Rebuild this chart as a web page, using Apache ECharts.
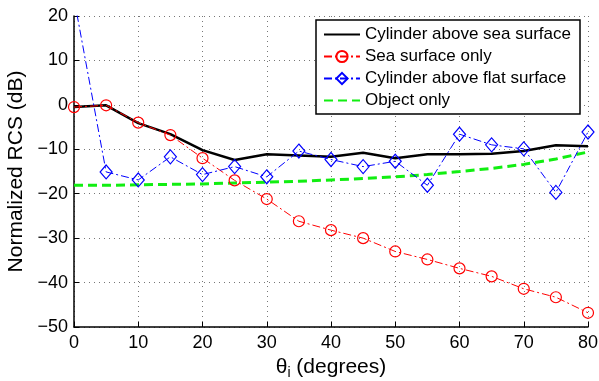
<!DOCTYPE html>
<html>
<head>
<meta charset="utf-8">
<script src="https://cdn.jsdelivr.net/npm/echarts@6/dist/echarts.min.js"></script>
<style>
  html, body { margin: 0; padding: 0; background: #fff; }
  #chart { width: 599px; height: 381px; }
</style>
</head>
<body>
<div id="chart"></div>
<script>
// incidence angles (degrees)
var angles = [0, 5, 10, 15, 20, 25, 30, 35, 40, 45, 50, 55, 60, 65, 70, 75, 80];

// Cylinder above sea surface
var cylSea = [-0.5, -0.1, -4.1, -6.6, -10.2, -12.4, -11.1, -11.4, -11.7, -10.8, -12.0, -11.1, -11.1, -11.0, -10.4, -9.1, -9.3];
// Sea surface only
var seaOnly = [-0.5, -0.1, -4.0, -6.8, -12.0, -17.0, -21.2, -26.2, -28.2, -30.0, -33.0, -34.8, -36.8, -38.6, -41.4, -43.3, -46.8];
// Cylinder above flat surface (first point lies above the plotted range)
var cylFlat = [24, -15.1, -16.9, -11.7, -15.7, -13.9, -16.2, -10.4, -12.3, -13.9, -12.7, -18.1, -6.6, -9.0, -9.9, -19.7, -6.1];
// Object only
var objOnly = [-18.1, -18.1, -18.0, -17.9, -17.8, -17.6, -17.4, -17.2, -16.9, -16.6, -16.2, -15.7, -15.0, -14.3, -13.4, -12.2, -10.6];

var seriesNames = ['Cylinder above sea surface', 'Sea surface only', 'Cylinder above flat surface', 'Object only'];

function pairs(ys) {
    return angles.map(function (x, i) { return [x, ys[i]]; });
}

function minusSign(v) {
    return String(v).replace('-', '\u2212');
}

var font = 'Liberation Sans, Helvetica, Arial, sans-serif';
var dashDot = [8, 3, 2, 3];
var gridLine = { show: true, lineStyle: { color: '#777', type: [1, 4], width: 1 } };

var chart = echarts.init(document.getElementById('chart'));
var option = {
    animation: false,
    grid: { left: 74, right: 11, top: 16, bottom: 54, outerBoundsMode: 'none' },
    legend: {
        orient: 'vertical',
        left: 316,
        top: 20,
        padding: [6, 9, 5, 7],
        itemGap: 5,
        itemWidth: 36,
        itemHeight: 14,
        borderColor: '#000',
        borderWidth: 1.5,
        backgroundColor: '#fff',
        textStyle: { fontFamily: font, fontSize: 17, color: '#000' },
        data: [
            { name: seriesNames[0], itemStyle: { opacity: 0 } },
            { name: seriesNames[1] },
            { name: seriesNames[2] },
            { name: seriesNames[3], itemStyle: { opacity: 0 } }
        ]
    },
    xAxis: {
        type: 'value',
        min: 0,
        max: 80,
        interval: 10,
        name: '{t|θ}{s|i}{t| (degrees)}',
        nameLocation: 'middle',
        nameGap: 25,
        nameTextStyle: {
            rich: {
                t: { fontFamily: font, fontSize: 21, color: '#000' },
                s: { fontFamily: font, fontSize: 14, color: '#000', verticalAlign: 'bottom', padding: [12, 0, 0, 0] }
            }
        },
        axisLine: { onZero: false, lineStyle: { color: '#000', width: 1.5 } },
        axisTick: { inside: true, length: 5, lineStyle: { color: '#000' } },
        axisLabel: { fontFamily: font, fontSize: 18, color: '#000', margin: 7 },
        splitLine: gridLine
    },
    yAxis: {
        type: 'value',
        min: -50,
        max: 20,
        interval: 10,
        name: 'Normalized RCS (dB)',
        nameLocation: 'middle',
        nameGap: 46,
        nameTextStyle: { fontFamily: font, fontSize: 21, color: '#000' },
        axisLine: { show: true, onZero: false, lineStyle: { color: '#000', width: 1.5 } },
        axisTick: { show: true, inside: true, length: 5, lineStyle: { color: '#000' } },
        axisLabel: { fontFamily: font, fontSize: 18, color: '#000', margin: 6, formatter: minusSign },
        splitLine: gridLine
    },
    series: [
        {
            name: seriesNames[0],
            type: 'line',
            data: pairs(cylSea),
            symbol: 'none',
            color: '#000',
            lineStyle: { color: '#000', width: 2.5 },
            z: 3
        },
        {
            name: seriesNames[1],
            type: 'line',
            data: pairs(seaOnly),
            symbol: 'circle',
            symbolSize: 11,
            color: '#ff0000',
            itemStyle: { color: 'rgba(255,255,255,0)', borderColor: '#ff0000', borderWidth: 1.2 },
            lineStyle: { color: '#ff0000', width: 1, type: dashDot },
            z: 4
        },
        {
            name: seriesNames[2],
            type: 'line',
            data: pairs(cylFlat),
            symbol: 'diamond',
            symbolSize: [12, 14],
            color: '#0000ff',
            itemStyle: { color: 'rgba(255,255,255,0)', borderColor: '#0000ff', borderWidth: 1.2 },
            lineStyle: { color: '#0000ff', width: 1, type: dashDot },
            clip: true,
            z: 5
        },
        {
            name: seriesNames[3],
            type: 'line',
            data: pairs(objOnly),
            symbol: 'none',
            color: '#11ee11',
            lineStyle: { color: '#11ee11', width: 3, type: [9, 5] },
            z: 2
        }
    ]
};
chart.setOption(option);
</script>
</body>
</html>
